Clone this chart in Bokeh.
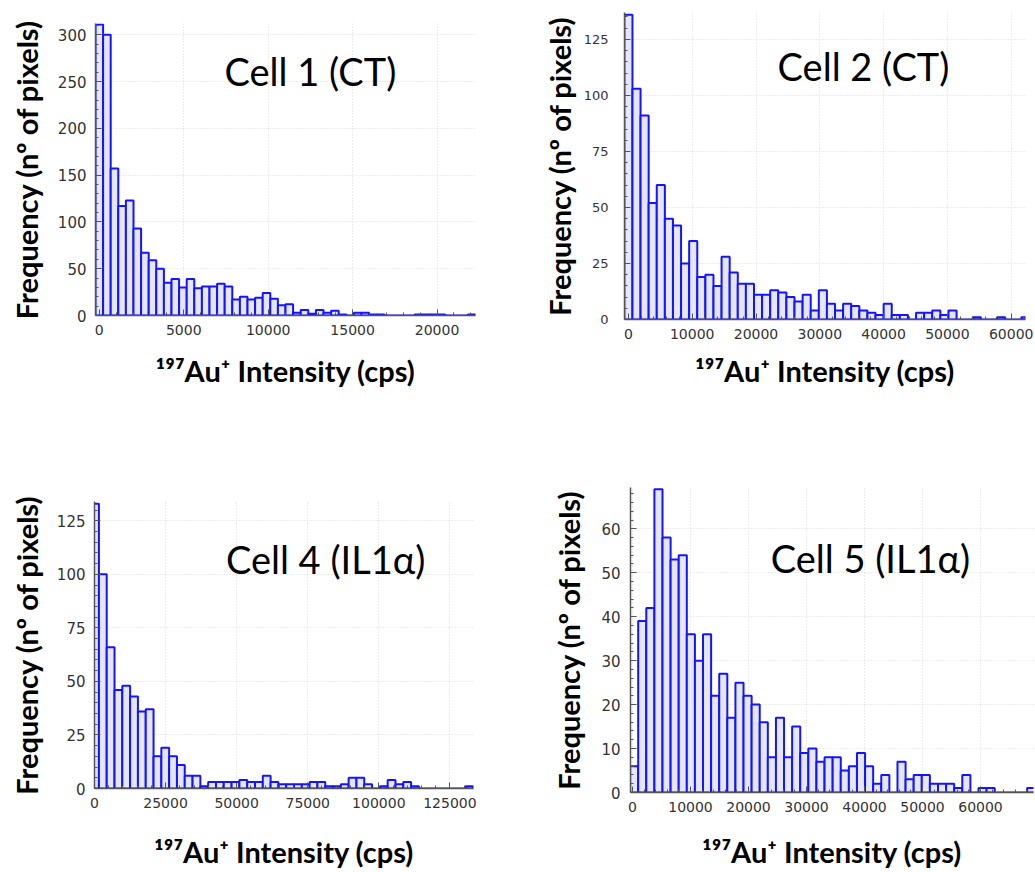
from bokeh.plotting import figure
from bokeh.layouts import column, row
from bokeh.models import Range1d, FixedTicker, Label, ColumnDataSource, BasicTickFormatter
from bokeh.embed import file_html
from bokeh.resources import INLINE

# ---------------- data ----------------
x_title = "¹⁹⁷Au⁺ Intensity (cps)"
y_title = "Frequency (nº of pixels)"
panel_titles = ["Cell 1 (CT)", "Cell 2 (CT)", "Cell 4 (IL1α)", "Cell 5 (IL1α)"]

cell1_counts = [311, 300, 157, 117, 123, 93, 67, 59, 50, 35,
                39, 30, 39, 29, 31, 31, 34, 31, 17, 20,
                17, 19, 24, 18, 11, 12, 3, 6, 2, 6,
                3, 5, 1, 0, 3, 3, 1, 1, 0, 0,
                0, 0, 1, 1, 1, 1, 0, 0, 0, 1]
cell1_first_edge = -225
cell1_bin_width = 450
cell1_xticks = [0, 5000, 10000, 15000, 20000]
cell1_yticks = [0, 50, 100, 150, 200, 250, 300]

cell2_counts = [136, 103, 91, 52, 60, 45, 42, 25, 35, 19,
                20, 15, 28, 21, 16, 16, 11, 11, 13, 12,
                10, 8, 11, 4, 13, 7, 4, 7, 6, 4,
                3, 2, 7, 2, 2, 0, 3, 3, 4, 2,
                4, 0, 0, 1, 0, 0, 1, 0, 0, 1]
cell2_first_edge = -635
cell2_bin_width = 1270
cell2_xticks = [0, 10000, 20000, 30000, 40000, 50000, 60000]
cell2_yticks = [0, 25, 50, 75, 100, 125]

cell4_counts = [133, 100, 66, 46, 48, 43, 36, 37, 15, 19,
                15, 11, 6, 6, 1, 3, 3, 3, 3, 4,
                3, 3, 6, 3, 2, 2, 2, 2, 3, 3,
                1, 1, 2, 5, 5, 2, 0, 1, 4, 2,
                3, 1, 0, 0, 0, 0, 0, 0, 1]
cell4_first_edge = -1195
cell4_bin_width = 2745
cell4_xticks = [0, 25000, 50000, 75000, 100000, 125000]
cell4_yticks = [0, 25, 50, 75, 100, 125]

cell5_counts = [6, 39, 42, 69, 58, 53, 54, 36, 30, 36,
                22, 27, 17, 25, 22, 20, 16, 8, 17, 8,
                15, 9, 10, 7, 8, 8, 5, 6, 9, 6,
                2, 4, 0, 7, 3, 4, 4, 2, 2, 2,
                1, 4, 0, 1, 1, 0, 0, 0, 0, 1]
cell5_first_edge = -414
cell5_bin_width = 1397
cell5_xticks = [0, 10000, 20000, 30000, 40000, 50000, 60000]
cell5_yticks = [0, 10, 20, 30, 40, 50, 60]

# ---------------- styling / layout ----------------
BAR_FILL = "#e6e6fb"
BAR_LINE = "#1414ff"
TITLE_FONT = "Lato"


def minor_between(ticks, n):
    out = []
    for a, b in zip(ticks[:-1], ticks[1:]):
        step = (b - a) / n
        out += [a + step * i for i in range(1, n)]
    step = (ticks[1] - ticks[0]) / n
    out += [ticks[-1] + step * i for i in range(1, 3 * n)]
    out += [ticks[0] - step * i for i in range(1, n)]
    return out


def panel(counts, first_edge, bin_w, xr, yr, xticks, yticks, nminor_x, nminor_y,
          title, tx, ty, geom, ylab_size, xlab_size, ystand, xstand, ylstand):
    left = [first_edge + i * bin_w for i in range(len(counts))]
    right = [l + bin_w for l in left]
    src = ColumnDataSource(dict(left=left, right=right, top=counts,
                                bottom=[0] * len(counts)))
    w, h, bl, br, bt, bb = geom
    p = figure(width=w, height=h, x_range=Range1d(*xr), y_range=Range1d(*yr),
               output_backend="svg", toolbar_location=None,
               min_border_left=bl, min_border_right=br,
               min_border_top=bt, min_border_bottom=bb)
    p.outline_line_color = None
    p.background_fill_color = "white"
    p.border_fill_color = "white"
    p.quad(left="left", right="right", top="top", bottom="bottom", source=src,
           fill_color=BAR_FILL, line_color=BAR_LINE, line_width=2)

    xt = FixedTicker(ticks=xticks, minor_ticks=minor_between(xticks, nminor_x))
    yt = FixedTicker(ticks=yticks, minor_ticks=minor_between(yticks, nminor_y))
    p.xaxis.ticker = xt
    p.yaxis.ticker = yt
    p.xaxis.formatter = BasicTickFormatter(use_scientific=False)
    p.xgrid.ticker = xt
    p.ygrid.ticker = yt
    for g in (p.xgrid, p.ygrid):
        g.grid_line_color = "#d8d8d8"
        g.grid_line_dash = "1 2"
        g.grid_line_width = 1

    for ax in (p.xaxis, p.yaxis):
        ax.axis_line_color = "#555555"
        ax.axis_line_width = 1.5
        ax.major_tick_line_color = "#555555"
        ax.minor_tick_line_color = "#555555"
        ax.major_tick_in = 6
        ax.major_tick_out = 0
        ax.minor_tick_in = 3
        ax.minor_tick_out = 0
        ax.major_label_text_font = "DejaVu Sans"
        ax.major_label_text_color = "#333333"
        ax.axis_label_text_font = TITLE_FONT
        ax.axis_label_text_font_style = "bold"
        ax.axis_label_text_color = "black"
        ax.axis_label_text_font_size = "29px"

    p.yaxis.major_label_text_font_size = ylab_size
    p.xaxis.major_label_text_font_size = xlab_size
    p.yaxis.major_label_standoff = ystand
    p.xaxis.major_label_standoff = 9
    p.xaxis.axis_label = x_title
    p.yaxis.axis_label = y_title
    p.xaxis.axis_label_standoff = xstand
    p.yaxis.axis_label_standoff = ylstand

    p.add_layout(Label(x=tx, y=ty, text=title, text_font=TITLE_FONT,
                       text_font_size="38px", text_align="center",
                       text_baseline="middle", text_color="black"))
    return p


p1 = panel(cell1_counts, cell1_first_edge, cell1_bin_width, (-225, 22275), (0, 312),
           cell1_xticks, cell1_yticks, 5, 5, panel_titles[0], 12500, 261,
           (508, 404, 95, 33, 23, 89), "15px", "14px", 9, 15, 11)
p2 = panel(cell2_counts, cell2_first_edge, cell2_bin_width, (-611, 62240), (0, 137),
           cell2_xticks, cell2_yticks, 5, 5, panel_titles[1], 36850, 113,
           (527, 404, 116, 10, 12, 85), "13px", "14px", 16, 11, 4)
p3 = panel(cell4_counts, cell4_first_edge, cell4_bin_width, (0, 133300), (0, 134),
           cell4_xticks, cell4_yticks, 5, 5, panel_titles[2], 81290, 107,
           (508, 467, 94, 35, 97, 82), "15px", "14px", 9, 23, 10)
p4 = panel(cell5_counts, cell5_first_edge, cell5_bin_width, (-345, 69140), (0, 69.4),
           cell5_xticks, cell5_yticks, 5, 5, panel_titles[3], 41030, 53.4,
           (527, 467, 122, 2, 83, 78), "15px", "14px", 10, 19, 12)

layout = column(row(column(p1), column(p2)), row(column(p3), column(p4)))
open("out.html", "w").write(file_html(layout, INLINE))
